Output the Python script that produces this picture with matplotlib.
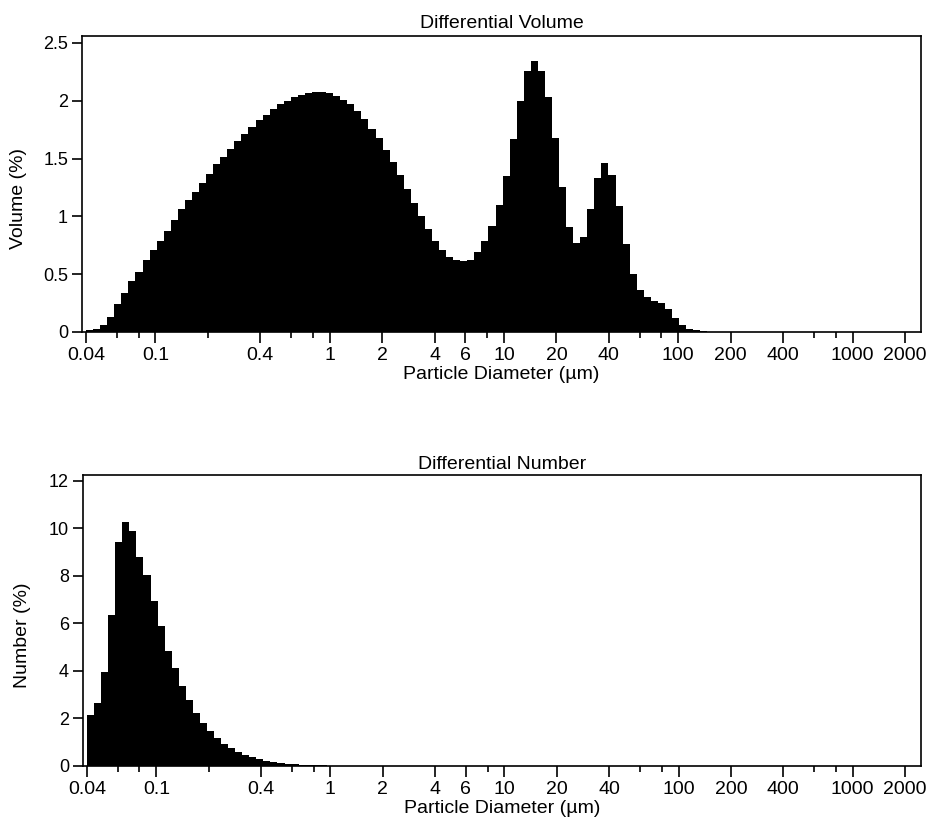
import numpy as np
import matplotlib
matplotlib.use("Agg")
import matplotlib.pyplot as plt

plt.rcParams['font.family'] = ['Liberation Sans', 'DejaVu Sans']

# 116 instrument channels, 0.04 - 2000 um
n_chan = 116
edges = np.geomspace(0.04, 2000, n_chan + 1)

volume_pct = [0.02, 0.03, 0.06, 0.13, 0.24, 0.34, 0.44, 0.52, 0.62, 0.71,
              0.79, 0.87, 0.97, 1.06, 1.14, 1.21, 1.29, 1.37, 1.45, 1.51,
              1.58, 1.65, 1.71, 1.77, 1.83, 1.88, 1.93, 1.97, 2.00, 2.03,
              2.05, 2.07, 2.08, 2.08, 2.07, 2.04, 2.01, 1.97, 1.91, 1.84,
              1.76, 1.68, 1.57, 1.47, 1.36, 1.24, 1.12, 1.00, 0.89, 0.79,
              0.71, 0.65, 0.62, 0.61, 0.62, 0.69, 0.79, 0.92, 1.10, 1.35,
              1.67, 2.00, 2.26, 2.34, 2.26, 2.03, 1.68, 1.25, 0.91, 0.77,
              0.82, 1.06, 1.33, 1.46, 1.36, 1.09, 0.76, 0.50, 0.36, 0.30,
              0.27, 0.25, 0.20, 0.12, 0.06, 0.03, 0.015, 0.008, 0.004]

number_pct = [2.15, 2.66, 3.95, 6.35, 9.44, 10.26, 9.87, 8.78, 8.05, 6.94,
              5.89, 4.85, 4.11, 3.38, 2.78, 2.22, 1.81, 1.49, 1.19, 0.94,
              0.74, 0.58, 0.47, 0.36, 0.28, 0.22, 0.17, 0.13, 0.10, 0.08,
              0.06, 0.05, 0.04, 0.03, 0.02, 0.015, 0.01, 0.007, 0.005, 0.003]

major_ticks = [0.04, 0.1, 0.4, 1, 2, 4, 6, 10, 20, 40, 100, 200, 400, 1000, 2000]
major_labels = ["0.04", "0.1", "0.4", "1", "2", "4", "6", "10", "20", "40",
                "100", "200", "400", "1000", "2000"]
minor_ticks = [0.06, 0.08, 0.2, 0.6, 0.8, 8, 60, 80, 600, 800]


def pad(vals):
    out = np.zeros(n_chan)
    out[:len(vals)] = vals
    return out


def draw(ax, vals, title, ylabel, ymax, yticks, ylabels, tpad, ylx):
    ax.stairs(pad(vals), edges, fill=True, color='black', baseline=0)
    ax.set_xscale('log')
    ax.set_xlim(0.0379, 2472)
    ax.set_ylim(0, ymax)
    ax.set_xticks(major_ticks)
    ax.set_xticklabels(major_labels)
    ax.set_xticks(minor_ticks, minor=True)
    ax.xaxis.set_minor_formatter(matplotlib.ticker.NullFormatter())
    ax.set_yticks(yticks)
    ax.set_yticklabels(ylabels)
    ax.tick_params(axis='x', which='major', length=8, width=1.2, pad=2.5, labelsize=14)
    ax.tick_params(axis='x', which='minor', length=4.5, width=1.2)
    ax.tick_params(axis='y', which='major', length=7.5, width=1.2, pad=2.5, labelsize=13)
    ax.tick_params(axis='y', which='minor', left=False)
    for s in ax.spines.values():
        s.set_linewidth(1.2)
    ax.set_title(title, fontsize=14, pad=tpad)
    ax.set_xlabel("Particle Diameter (µm)", fontsize=14, labelpad=2)
    ax.set_ylabel(ylabel, fontsize=14)
    ax.yaxis.set_label_coords(ylx, 0.45)


fig = plt.figure(figsize=(9.31, 8.23), dpi=100)
ax1 = fig.add_axes([82 / 931, 1 - 332 / 823, 839 / 931, 296 / 823])
ax2 = fig.add_axes([83 / 931, 1 - 766 / 823, 838 / 931, 291 / 823])

draw(ax1, volume_pct, "Differential Volume", "Volume (%)", 2.56,
     [0, 0.5, 1, 1.5, 2, 2.5], ["0", "0.5", "1", "1.5", "2", "2.5"], 6, -0.066)
draw(ax2, number_pct, "Differential Number", "Number (%)", 12.24,
     [0, 2, 4, 6, 8, 10, 12], ["0", "2", "4", "6", "8", "10", "12"], 4.5, -0.062)

fig.savefig("out.png", dpi=100)
